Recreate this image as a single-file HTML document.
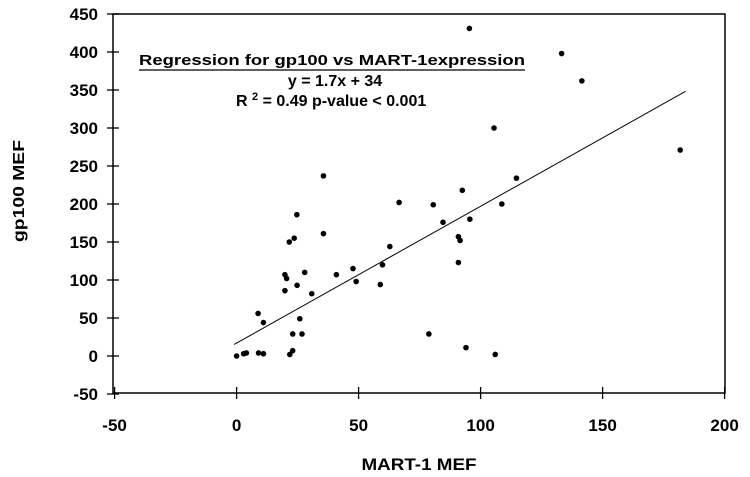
<!DOCTYPE html>
<html><head><meta charset="utf-8"><style>
body{margin:0;background:#fff;}
svg{display:block;font-family:"Liberation Sans",Arial,sans-serif;}
</style></head><body>
<svg id="chart" width="750" height="477" viewBox="0 0 750 477">
<rect x="113" y="14" width="612" height="379" fill="none" stroke="#000" stroke-width="1.5"/>
<g id="yticks"></g><g id="xticks"></g><g id="pts"></g>
<text transform="translate(24,191) rotate(-90)" text-anchor="middle" font-size="16" font-weight="bold" textLength="102" lengthAdjust="spacingAndGlyphs">gp100 MEF</text>
<text x="419" y="470" text-anchor="middle" font-size="17" font-weight="bold" textLength="115" lengthAdjust="spacingAndGlyphs">MART-1 MEF</text>
<text x="139" y="65" font-size="15" font-weight="bold" textLength="386" lengthAdjust="spacingAndGlyphs">Regression for gp100 vs MART-1expression</text>
<line x1="139" y1="70" x2="525" y2="70" stroke="#000" stroke-width="1.3"/>
<text x="335" y="86" text-anchor="middle" font-size="16" font-weight="bold">y = 1.7x + 34</text>
<text x="236" y="106" font-size="16" font-weight="bold">R <tspan dy="-6" font-size="11">2</tspan><tspan dy="6"> = 0.49  p-value &lt; 0.001</tspan></text>
</svg>
<script>
const xTicks=[-50,0,50,100,150,200];
const yTicks=[-50,0,50,100,150,200,250,300,350,400,450];
const ptX=[95.4,133.2,141.5,105.5,181.8,35.6,114.7,92.5,66.6,80.6,108.7,24.7,95.6,84.6,35.6,23.6,21.6,90.9,91.6,62.8,90.9,59.8,47.7,27.9,40.9,19.8,20.5,49,24.8,58.9,19.8,30.8,8.8,11,25.9,23,26.8,78.8,94,23,21.8,0,2.9,4,9,11,106];
const ptY=[431,398,362,300,271,237,234,218,202,199,200,186,180,176,161,155,150,157,152,144,123,120,115,110,107,107,102,98,93,94,86,82,56,44,49,29,29,29,11,7,2,0,3,4,4,3,2];
const lineX=[-1,184];
const slope=1.8, intercept=17;
const sx=v=>236.6+v*2.44;
const sy=v=>356-v*0.76;
const NS="http://www.w3.org/2000/svg";
function mk(t,a,p){const e=document.createElementNS(NS,t);for(const k in a)e.setAttribute(k,a[k]);p.appendChild(e);return e;}
const yt=document.getElementById('yticks');
yTicks.forEach(v=>{
 const l=mk('line',{x1:107,x2:119,y1:sy(v),y2:sy(v),stroke:'#000','stroke-width':1.3},yt);
 
 
 const t=mk('text',{x:98,y:sy(v)+6,'text-anchor':'end','font-size':17,'font-weight':'bold'},yt);
 t.textContent=v;
 
 
});
const xt=document.getElementById('xticks');
xTicks.forEach(v=>{
 const l=mk('line',{x1:sx(v),x2:sx(v),y1:387,y2:399,stroke:'#000','stroke-width':1.3},xt);
 
 
 const t=mk('text',{x:sx(v),y:431,'text-anchor':'middle','font-size':17,'font-weight':'bold'},xt);
 t.textContent=v;
 
 
});
const pg=document.getElementById('pts');
const rl=mk('line',{x1:sx(lineX[0]),y1:sy(slope*lineX[0]+intercept),x2:sx(lineX[1]),y2:sy(slope*lineX[1]+intercept),stroke:'#000','stroke-width':1},pg);


ptX.forEach((x,i)=>{
 const c=mk('circle',{cx:sx(x),cy:sy(ptY[i]),r:2.8,fill:'#000'},pg);
 
 
});
</script>
</body></html>
